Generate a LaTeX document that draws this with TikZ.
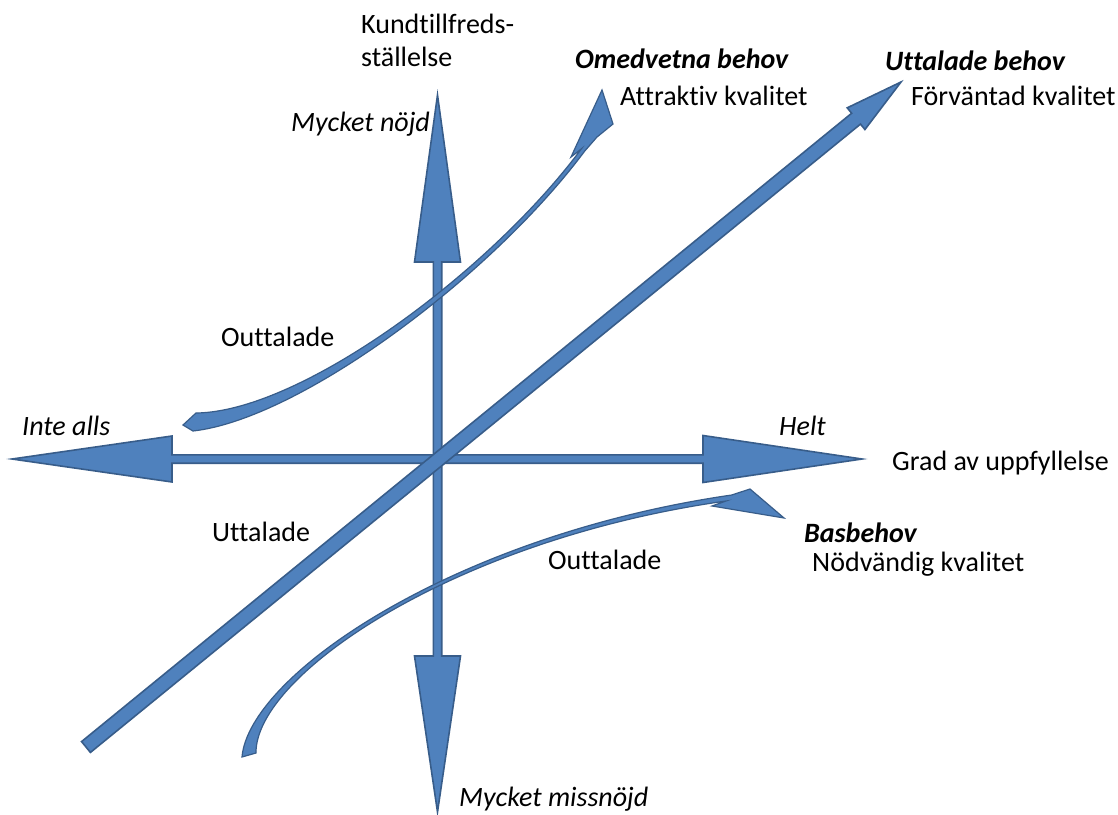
\documentclass[tikz,border=0pt]{standalone}
\usepackage{fontspec}
\setmainfont{Carlito}[Ligatures={NoCommon}]
\usetikzlibrary{calc}
\definecolor{kfill}{HTML}{4F81BD}
\definecolor{kline}{HTML}{385D8A}
\tikzset{
  barrow/.style={fill=kfill, draw=kline, line width=1.6pt, line join=miter},
  thinarrow/.style={barrow, line width=1.2pt},
  lbl/.style={inner sep=0pt, anchor=base west, text=black, font=\fontsize{28}{33}\selectfont},
  emlbl/.style={lbl, font=\fontsize{28}{33}\selectfont\itshape},
  bemlbl/.style={lbl, font=\fontsize{28}{33}\selectfont\bfseries\itshape},
}
% name, tail, tip, shaft half width, head half width, head length
\newcommand\blockarrow[6]{%
  \coordinate (#1-t) at (#2);
  \coordinate (#1-p) at (#3);
  \coordinate (#1-h) at ($(#1-p)!#6!(#1-t)$);
  \filldraw[barrow] ($(#1-t)!#4!90:(#1-p)$) -- ($(#1-h)!#4!90:(#1-p)$) -- ($(#1-h)!#5!90:(#1-p)$) -- (#1-p)
    -- ($(#1-h)!#5!-90:(#1-p)$) -- ($(#1-h)!#4!-90:(#1-p)$) -- ($(#1-t)!#4!-90:(#1-p)$) -- cycle;}
\begin{document}
\begin{tikzpicture}[x=1pt,y=-1pt]
\useasboundingbox (0,0) rectangle (1118,814);
\fill[white] (0,0) rectangle (1118,814);

% vertical axis (Kundtillfredsställelse)
\filldraw[barrow] (437.5,95) -- (460.5,262) -- (441.7,262) -- (441.7,656) -- (460.5,656) -- (437.5,812)
  -- (414.5,656) -- (433.3,656) -- (433.3,262) -- (414.5,262) -- cycle;
% horizontal axis (Grad av uppfyllelse)
\filldraw[barrow] (12,459) -- (172,436) -- (172,454.8) -- (703,454.8) -- (703,435.5) -- (862,459)
  -- (703,482.5) -- (703,463.2) -- (172,463.2) -- (172,482) -- cycle;

% diagonal arrow (Uttalade behov)
\blockarrow{diag}{86,747}{901,82}{7pt}{14pt}{58pt}

% curved arrow (Omedvetna behov)
\filldraw[thinarrow] (196,413) .. controls (299.8,412) and (488.4,273.8) .. (581.4,148.8)
  -- (571,157) -- (602,90) -- (613,124) -- (597,137) -- (584.6,151.2)
  .. controls (491.6,276.2) and (300.2,419) .. (193,431) -- (183,425) -- cycle;

% curved arrow (Basbehov)
\filldraw[thinarrow] (242,757) .. controls (249,674.9) and (454.7,535) .. (731.7,495)
  -- (750,489) -- (784,518) -- (712,506) -- (726,501)
  .. controls (455.3,539) and (255,675.1) .. (256,753) -- cycle;

% labels
\node[lbl, anchor=north west, align=left] (kund) at (361,14) {Kundtillfreds-\\ställelse};
\node[bemlbl] (omed) at (575,68) {Omedvetna behov};
\node[lbl] (attr) at (620,105.5) {Attraktiv kvalitet};
\node[bemlbl] (uttb) at (885,70.5) {Uttalade behov};
\node[lbl] (forv) at (911,105.7) {Förväntad kvalitet};
\node[emlbl] (nojd) at (291,131) {Mycket nöjd};
\node[lbl] (outt1) at (221,346) {Outtalade};
\node[emlbl] (inte) at (22,435) {Inte alls};
\node[emlbl] (helt) at (779,435) {Helt};
\node[lbl] (grad) at (892,470) {Grad av uppfyllelse};
\node[lbl] (uttl) at (212,541.5) {Uttalade};
\node[lbl] (outt2) at (548,569) {Outtalade};
\node[bemlbl] (bas) at (804,542) {Basbehov};
\node[lbl] (nodv) at (812,571.5) {Nödvändig kvalitet};
\node[emlbl] (miss) at (459,806) {Mycket missnöjd};
\end{tikzpicture}
\end{document}
